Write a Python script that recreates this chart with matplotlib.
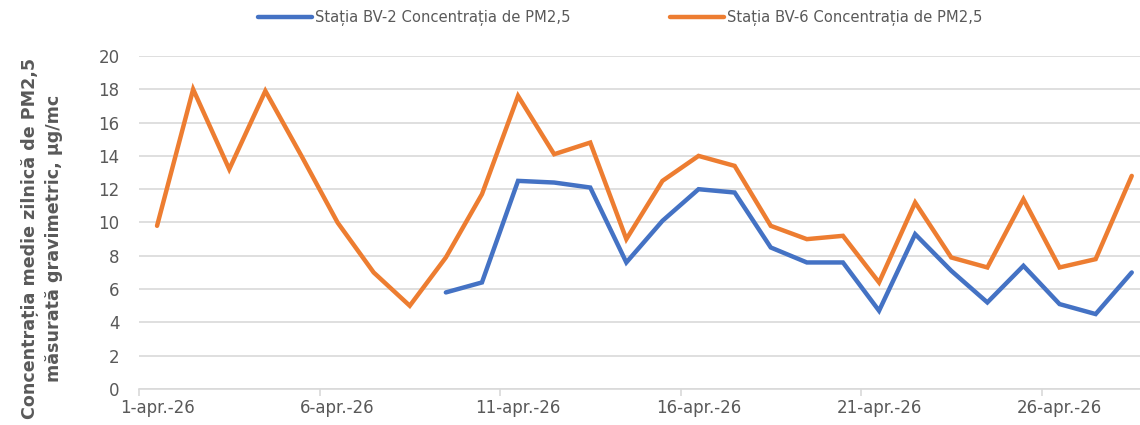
import matplotlib.pyplot as plt
import numpy as np

# zilele lunii aprilie 2026
days_bv6 = list(range(1, 29))
days_bv2 = list(range(9, 29))

bv6 = [9.8, 18.0, 13.2, 17.9, 14.0, 10.0, 7.0, 5.0, 7.9, 11.7,
       17.6, 14.1, 14.8, 9.0, 12.5, 14.0, 13.4, 9.8, 9.0, 9.2,
       6.4, 11.2, 7.9, 7.3, 11.4, 7.3, 7.8, 12.8]
bv2 = [5.8, 6.4, 12.5, 12.4, 12.1, 7.6, 10.1, 12.0, 11.8, 8.5,
       7.6, 7.6, 4.7, 9.3, 7.1, 5.2, 7.4, 5.1, 4.5, 7.0]

label_days = [1, 6, 11, 16, 21, 26]
date_labels = ['1-apr.-26', '6-apr.-26', '11-apr.-26', '16-apr.-26', '21-apr.-26', '26-apr.-26']

plt.rcParams['font.family'] = ['DejaVu Sans']
grey = '#595959'

fig = plt.figure(figsize=(11.4, 4.25), dpi=100)
ax = fig.add_axes([139/1140, 36/425, 1 - 139/1140, 333/425])

ax.plot(days_bv2, bv2, color='#4472C4', lw=3.2, solid_capstyle='round',
        solid_joinstyle='miter', label='Stația BV-2 Concentrația de PM2,5', clip_on=False, zorder=3)
ax.plot(days_bv6, bv6, color='#ED7D31', lw=3.2, solid_capstyle='round',
        solid_joinstyle='miter', label='Stația BV-6 Concentrația de PM2,5', clip_on=False, zorder=3)

ax.set_ylim(0, 20)
ax.set_yticks(np.arange(0, 21, 2))
ax.set_xlim(0.5, 0.5 + 1001/36.1)

# tick marks between days, labels on the days
ax.set_xticks([d - 0.5 for d in label_days])
ax.set_xticklabels([])
ax.set_xticks(label_days, minor=True)
ax.set_xticklabels(date_labels, minor=True)
ax.tick_params(axis='x', which='major', length=5, color='#D9D9D9', width=1.2)
ax.tick_params(axis='x', which='minor', length=0, pad=7, labelsize=12, labelcolor=grey)
ax.tick_params(axis='y', length=0, pad=14, labelsize=12, labelcolor=grey)

ax.grid(axis='y', color='#D9D9D9', lw=1.2)
ax.set_axisbelow(True)
for s in ['top', 'right', 'left']:
    ax.spines[s].set_visible(False)
ax.spines['bottom'].set_color('#D9D9D9')
ax.spines['bottom'].set_linewidth(1.2)

fig.text(0.037, 1 - 238/425, 'Concentrația medie zilnică de PM2,5\nmăsurată gravimetric, µg/mc',
         rotation=90, ha='center', va='center', fontsize=12.6, fontweight='bold',
         color=grey, linespacing=1.4)

fig.legend(loc='center', bbox_to_anchor=(0.544, 1 - 18/425), ncol=2, frameon=False,
           fontsize=10.6, labelcolor=grey, handlelength=3.7, handletextpad=0.2, columnspacing=6.7)

fig.savefig('out.png', dpi=100)
